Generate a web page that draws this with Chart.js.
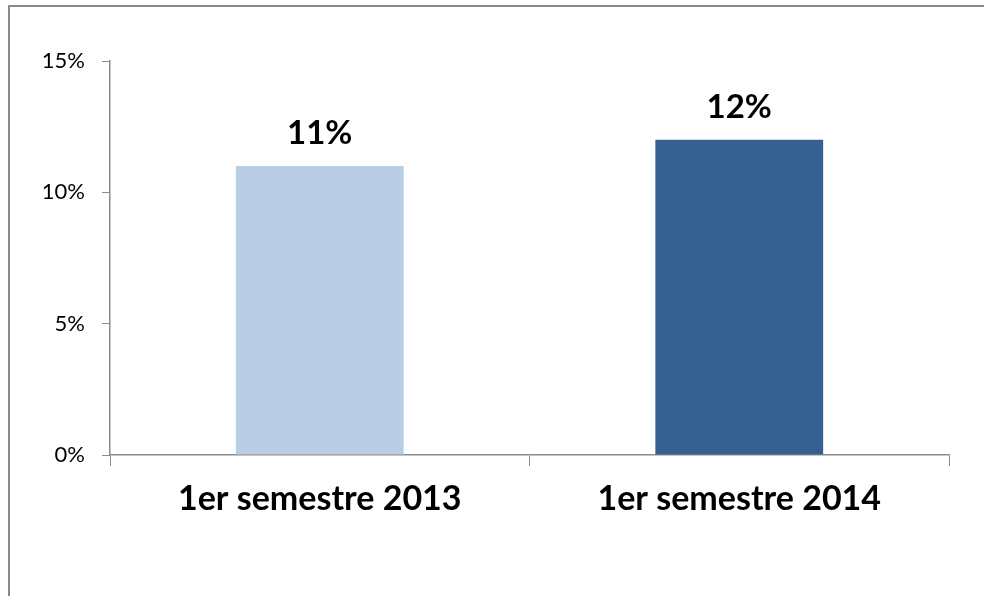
<!DOCTYPE html>
<html>
<head>
<meta charset="utf-8">
<script src="https://cdn.jsdelivr.net/npm/chart.js@4"></script>
<style>
  html, body { margin: 0; padding: 0; background: #fff; }
  #wrap { position: relative; width: 984px; height: 596px; }
</style>
</head>
<body>
<div id="wrap"><canvas id="chart" width="984" height="596"></canvas></div>
<script>
const categories = ["1er semestre 2013", "1er semestre 2014"];
const values = [11, 12];
const barColors = ["#B9CDE5", "#376092"];
const yTicks = [0, 5, 10, 15];

const axisGray = "#8c8c8c";

// frame around the chart (left + top edges are visible)
const framePlugin = {
  id: "frame",
  beforeDraw(chart) {
    const ctx = chart.ctx;
    ctx.save();
    ctx.strokeStyle = "#8a8a8a";
    ctx.lineWidth = 2;
    ctx.beginPath();
    ctx.moveTo(9, chart.height + 5);
    ctx.lineTo(9, 6);
    ctx.lineTo(chart.width + 5, 6);
    ctx.stroke();
    ctx.restore();
  },
};

// value labels above the bars
const labelPlugin = {
  id: "barLabels",
  afterDatasetsDraw(chart) {
    const ctx = chart.ctx;
    const meta = chart.getDatasetMeta(0);
    ctx.save();
    ctx.font = "bold 33px Lato";
    ctx.fillStyle = "#000";
    ctx.textAlign = "center";
    ctx.textBaseline = "alphabetic";
    meta.data.forEach((bar, i) => {
      ctx.fillText(values[i] + "%", bar.x, bar.y - 22);
    });
    ctx.restore();
  },
};

var ctx = document.getElementById("chart").getContext("2d");
var myChart = new Chart(ctx, {
  type: "bar",
  data: {
    labels: categories,
    datasets: [
      {
        data: values,
        backgroundColor: barColors,
        borderWidth: 0,
        categoryPercentage: 0.8,
        barPercentage: 0.5,
      },
    ],
  },
  plugins: [framePlugin, labelPlugin],
  options: {
    responsive: false,
    animation: false,
    layout: { padding: { top: 61, right: 35, left: 0, bottom: 0 } },
    plugins: {
      legend: { display: false },
      tooltip: { enabled: false },
    },
    scales: {
      x: {
        grid: {
          display: true,
          drawOnChartArea: false,
          drawTicks: true,
          tickLength: 11,
          color: axisGray,
          offset: true,
        },
        border: { display: true, color: axisGray, width: 1.5 },
        ticks: {
          color: "#000",
          font: { family: "Lato", size: 34, weight: "bold" },
          padding: 13,
        },
        afterFit: (scale) => {
          scale.height = 141;
        },
      },
      y: {
        min: 0,
        max: 15,
        afterBuildTicks: (scale) => {
          scale.ticks = yTicks.map((v) => ({ value: v }));
        },
        grid: {
          display: true,
          drawOnChartArea: false,
          drawTicks: true,
          tickLength: 8,
          color: axisGray,
        },
        border: { display: true, color: axisGray, width: 1.5 },
        ticks: {
          color: "#000",
          font: { family: "Lato", size: 22 },
          padding: 17,
          callback: function (value) {
            return value + "%";
          },
        },
        afterFit: (scale) => {
          scale.width = 110;
        },
      },
    },
  },
});
</script>
</body>
</html>
